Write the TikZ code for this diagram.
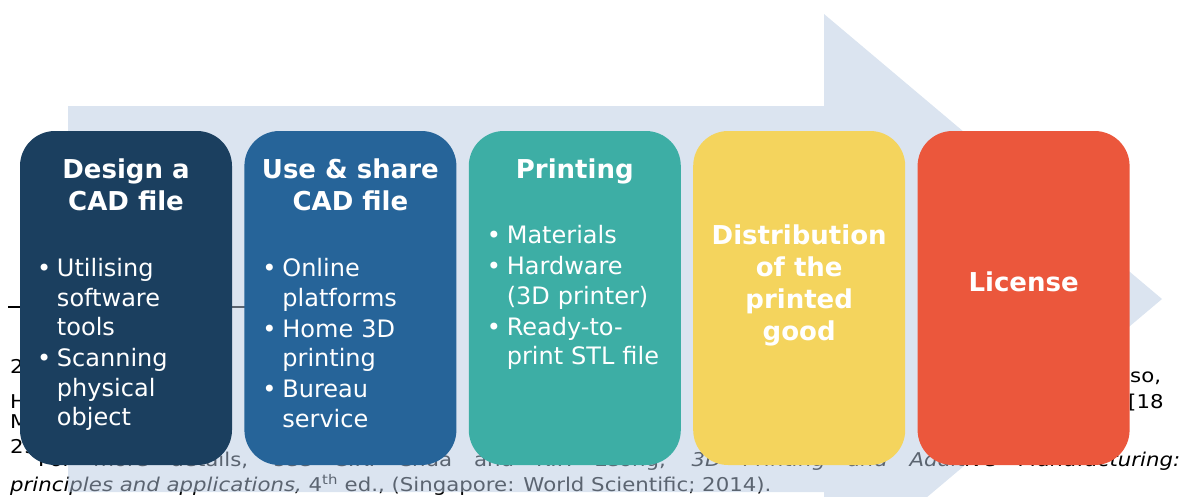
\documentclass[tikz,border=0pt]{standalone}
\usepackage{fontspec}
\setmainfont{DejaVu Sans}
\newfontfamily\notefont[FakeStretch=1.12]{DejaVu Sans}
\usepackage{tikz}
\usetikzlibrary{positioning, calc}

\definecolor{arrowblue}{RGB}{183,201,225}
\definecolor{stagenavy}{RGB}{27,63,95}
\definecolor{stageblue}{RGB}{38,100,153}
\definecolor{stageteal}{RGB}{61,174,165}
\definecolor{stageyellow}{RGB}{244,212,93}
\definecolor{stagered}{RGB}{235,87,60}

\newcommand{\stitem}[1]{\noindent\hangindent=20pt\hangafter=1\makebox[20pt][l]{\textbullet}#1\par\vspace{1.5pt}}

\tikzset{
    stage/.style={rectangle, rounded corners=35pt, minimum width=212pt, minimum height=334pt, inner sep=0pt},
    stagetitle/.style={text=white, font=\bfseries\fontsize{26}{32}\selectfont, align=center, inner sep=0pt, anchor=base},
    stagelist/.style={text=white, font=\fontsize{24}{29.5}\selectfont, text width=195pt, align=left, inner sep=0pt, anchor=base west},
    fnote/.style={font=\notefont\fontsize{19}{22}\selectfont, inner sep=0pt, anchor=base west}
}

\begin{document}
\begin{tikzpicture}[x=1pt, y=-1pt]
        \clip (0,0) rectangle (1192,496);
        \draw[line width=1.2pt] (8,307) -- (248,307);
        \node[fnote] (fa) at (10,373) {28};
        \node[fnote] (fb) at (10,408) {H};
        \node[fnote] (fc) at (10,428) {M};
        \node[fnote] (fd) at (1130,382) {so,};
        \node[fnote] (fe) at (1128,408) {[18};
        \node[fnote] (ff) at (10,453) {29};
        \node[fnote] (fg) at (38,466) {\makebox[1142pt][s]{For more details, see C.K. Chua and K.F. Leong, \textit{3D Printing and Additive Manufacturing:}}};
        \node[fnote] (fh) at (10,491) {\textit{principles and applications,} 4\textsuperscript{th} ed., (Singapore: World Scientific; 2014).};

        \fill[arrowblue, opacity=0.5] (68,106) -- (824,106) -- (824,14) -- (1162,299)
            -- (824,584) -- (824,492) -- (68,492) -- cycle;

        \node[stage, fill=stagenavy] (design) at (126,298) {};
        \node[stage, fill=stageblue, right=12pt of design] (share) {};
        \node[stage, fill=stageteal, right=12pt of share] (printing) {};
        \node[stage, fill=stageyellow, right=12pt of printing] (distribution) {};
        \node[stage, fill=stagered, right=12pt of distribution] (license) {};

        \node[stagetitle] (tdesign) at ([yshift=-80pt]design.north) {Design a\\CAD file};
        \node[stagetitle] (tshare) at ([yshift=-80pt]share.north) {Use \& share\\CAD file};
        \node[stagetitle] (tprinting) at ([yshift=-48pt]printing.north) {Printing};
        \node[stagetitle] (tdistribution) at ([yshift=-210pt]distribution.north) {Distribution\\of the\\printed\\good};
        \node[stagetitle] (tlicense) at ([yshift=-161pt]license.north) {License};

        \node[stagelist] (ldesign) at ([xshift=17pt, yshift=-146pt]design.north west) {%
            \stitem{Utilising\newline software\newline tools}
            \stitem{Scanning\newline physical\newline object}};
        \node[stagelist] (lshare) at ([xshift=18pt, yshift=-146pt]share.north west) {%
            \stitem{Online\newline platforms}
            \stitem{Home 3D\newline printing}
            \stitem{Bureau\newline service}};
        \node[stagelist] (lprinting) at ([xshift=18pt, yshift=-113pt]printing.north west) {%
            \stitem{Materials}
            \stitem{Hardware\newline (3D printer)}
            \stitem{Ready-to-\newline print STL file}};
\end{tikzpicture}
\end{document}
